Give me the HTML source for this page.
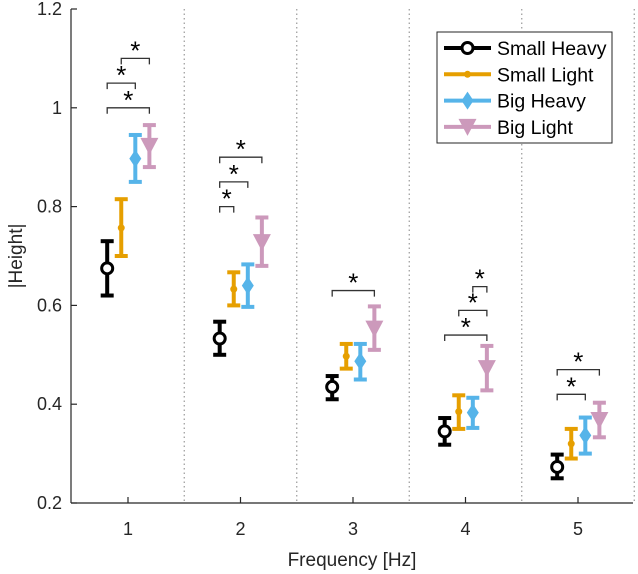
<!DOCTYPE html>
<html><head><meta charset="utf-8"><style>
body{margin:0;background:#fff;}
svg{display:block;font-family:"Liberation Sans",Arial,sans-serif;}
</style></head><body>
<svg id="chart" width="638" height="574">
<g id="axes"></g>
<g id="marks"></g>
<g id="sig"></g>
<g id="legend"></g>
</svg>
<script>
const categories=[1,2,3,4,5];
const seriesNames=["Small Heavy","Small Light","Big Heavy","Big Light"];
const smallHeavyMean=[0.675,0.533,0.435,0.345,0.273];
const smallHeavyLo=[0.62,0.50,0.41,0.318,0.25];
const smallHeavyHi=[0.73,0.567,0.457,0.372,0.298];
const smallLightMean=[0.757,0.633,0.497,0.385,0.32];
const smallLightLo=[0.70,0.60,0.472,0.35,0.29];
const smallLightHi=[0.815,0.667,0.522,0.418,0.35];
const bigHeavyMean=[0.897,0.64,0.487,0.383,0.337];
const bigHeavyLo=[0.85,0.597,0.45,0.352,0.30];
const bigHeavyHi=[0.945,0.683,0.522,0.413,0.373];
const bigLightMean=[0.923,0.728,0.553,0.473,0.368];
const bigLightLo=[0.88,0.68,0.51,0.428,0.333];
const bigLightHi=[0.965,0.778,0.598,0.518,0.403];
const yTicks=[0.2,0.4,0.6,0.8,1.0,1.2];
const yTickLabels=["0.2","0.4","0.6","0.8","1","1.2"];
// brackets: [group, seriesA, seriesB, height]
const brackets=[[1,0,3,1.0],[1,0,2,1.05],[1,1,3,1.1],[2,0,1,0.8],[2,0,2,0.85],[2,0,3,0.9],[3,0,3,0.63],[4,0,3,0.54],[4,1,3,0.59],[4,2,3,0.638],[5,0,2,0.42],[5,0,3,0.47]];

const NS="http://www.w3.org/2000/svg";
const L=71,R=633,B=503,T=9;
function X(c){return 128+(c-1)*112.5;}
function Y(v){return B-(v-0.2)/(1.0)*(B-T);}
const offs=[-0.185,-0.06,0.065,0.19];
const colors=["#000000","#E69F00","#56B4E9","#CC99BB"];
function mk(tag,attrs,parent){const e=document.createElementNS(NS,tag);for(const k in attrs)e.setAttribute(k,attrs[k]);parent.appendChild(e);return e;}
const ax=document.getElementById('axes');
[1.5,2.5,3.5,4.5,5.5].forEach(d=>{
 const l=mk('line',{x1:X(d),x2:X(d),y1:T,y2:B,stroke:'#999','stroke-width':1.2,'stroke-dasharray':'1.5,3'},ax);
 
 
});
const yl=mk('line',{x1:L,x2:L,y1:T,y2:B,stroke:'#262626','stroke-width':1.2},ax);


const xl=mk('line',{x1:L,x2:R,y1:B,y2:B,stroke:'#262626','stroke-width':1.2},ax);


yTicks.forEach((v,i)=>{
 mk('line',{x1:L,x2:L+6,y1:Y(v),y2:Y(v),stroke:'#262626','stroke-width':1.2},ax);
 const t=mk('text',{x:L-9,y:Y(v)+6,'text-anchor':'end','font-size':18,fill:'#262626'},ax);
 t.textContent=yTickLabels[i];
 
 
});
categories.forEach(c=>{
 mk('line',{x1:X(c),x2:X(c),y1:B,y2:B-6,stroke:'#262626','stroke-width':1.2},ax);
 const t=mk('text',{x:X(c),y:535,'text-anchor':'middle','font-size':18,fill:'#262626'},ax);
 t.textContent=String(c);
 
 
});
const xt=mk('text',{x:352,y:566,'text-anchor':'middle','font-size':19,fill:'#262626'},ax);
xt.textContent="Frequency [Hz]";


const yt=mk('text',{x:0,y:0,'text-anchor':'middle','font-size':19,fill:'#262626',transform:'translate(22,256) rotate(-90)'},ax);
yt.textContent="|Height|";



function marker(s,x,y,g){
 const c=colors[s];
 if(s===0){mk('circle',{cx:x,cy:y,r:5.5,fill:'#fff',stroke:c,'stroke-width':3},g);}
 else if(s===1){mk('circle',{cx:x,cy:y,r:3.5,fill:c},g);}
 else if(s===2){mk('polygon',{points:`${x},${y-9} ${x+6},${y} ${x},${y+9} ${x-6},${y}`,fill:c},g);}
 else {mk('polygon',{points:`${x-9},${y-8} ${x+9},${y-8} ${x},${y+9}`,fill:c},g);}
}
const means=[smallHeavyMean,smallLightMean,bigHeavyMean,bigLightMean];
const los=[smallHeavyLo,smallLightLo,bigHeavyLo,bigLightLo];
const his=[smallHeavyHi,smallLightHi,bigHeavyHi,bigLightHi];
const mg=document.getElementById('marks');
means.forEach((arr,s)=>{
 categories.forEach((c,i)=>{
  const g=mk('g',{},mg);
  
  
  const x=X(c+offs[s]),col=colors[s];
  const y1=Y(los[s][i]),y2=Y(his[s][i]);
  mk('line',{x1:x,x2:x,y1:y1,y2:y2,stroke:col,'stroke-width':4},g);
  mk('line',{x1:x-6.5,x2:x+6.5,y1:y1,y2:y1,stroke:col,'stroke-width':4},g);
  mk('line',{x1:x-6.5,x2:x+6.5,y1:y2,y2:y2,stroke:col,'stroke-width':4},g);
  marker(s,x,Y(arr[i]),g);
 });
});
const sg=document.getElementById('sig');
brackets.forEach(b=>{
 const g=mk('g',{},sg);
 
 
 const xa=X(b[0]+offs[b[1]]),xb=X(b[0]+offs[b[2]]),y=Y(b[3]);
 mk('polyline',{points:`${xa},${y+6} ${xa},${y} ${xb},${y} ${xb},${y+6}`,fill:'none',stroke:'#333','stroke-width':1.3},g);
 const t=mk('text',{x:(xa+xb)/2,y:y+1,'text-anchor':'middle','font-size':26,fill:'#000'},g);
 t.textContent="*";
});
const lg=document.getElementById('legend');
mk('rect',{x:437,y:32,width:175,height:111,fill:'#fff',stroke:'#262626','stroke-width':1},lg);
seriesNames.forEach((n,s)=>{
 const g=mk('g',{},lg);
 
 
 const y=48+s*26.3;
 mk('line',{x1:444,x2:491,y1:y,y2:y,stroke:colors[s],'stroke-width':4},g);
 marker(s,467.5,y,g);
 const t=mk('text',{x:497,y:y+7,'font-size':19.5,fill:'#000'},g);
 t.textContent=n;
});
</script>
</body></html>
